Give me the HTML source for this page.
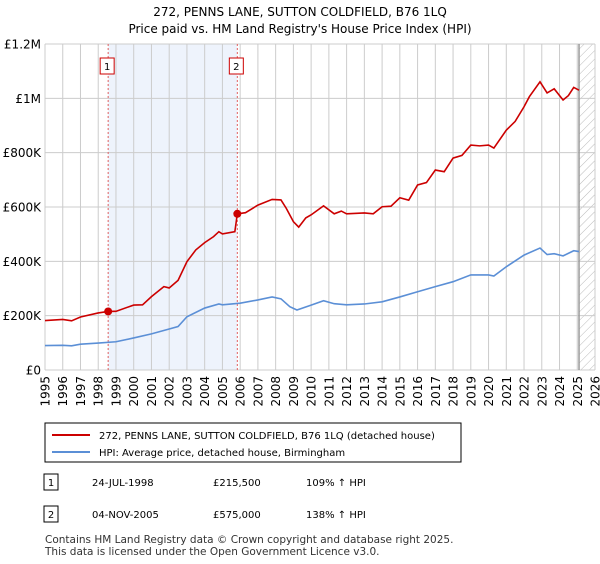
<!DOCTYPE html>
<html><head><meta charset="utf-8"><style>
body{margin:0;background:#fff;font-family:"DejaVu Sans","Liberation Sans",sans-serif;}
svg text{font-family:"DejaVu Sans","Liberation Sans",sans-serif;}
</style></head><body>
<svg id="c" width="600" height="560" viewBox="0 0 600 560" xmlns="http://www.w3.org/2000/svg">
<defs><pattern id="hatch" width="6" height="6" patternUnits="userSpaceOnUse" patternTransform="rotate(45)"><line x1="0" y1="0" x2="0" y2="6" stroke="#bbb" stroke-width="1"/></pattern></defs>
<text x="300" y="16" text-anchor="middle" font-size="12" fill="#000">272, PENNS LANE, SUTTON COLDFIELD, B76 1LQ</text>
<text x="300" y="33" text-anchor="middle" font-size="12" fill="#000">Price paid vs. HM Land Registry's House Price Index (HPI)</text>
<g id="plot"></g>
<g>
<rect x="45" y="423" width="416" height="39" fill="#fff" stroke="#000" stroke-width="1"/>
<line x1="52" y1="435" x2="90" y2="435" stroke="#cc0000" stroke-width="2"/>
<text x="99" y="439" font-size="10">272, PENNS LANE, SUTTON COLDFIELD, B76 1LQ (detached house)</text>
<line x1="52" y1="452" x2="90" y2="452" stroke="#5b8fd6" stroke-width="2"/>
<text x="99" y="456" font-size="10">HPI: Average price, detached house, Birmingham</text>
</g>
<g>
<rect x="44" y="474" width="14" height="16" fill="#fff" stroke="#000"/>
<text x="51" y="486" text-anchor="middle" font-size="10">1</text>
<text x="92" y="486" font-size="10">24-JUL-1998</text>
<text x="213" y="486" font-size="10">£215,500</text>
<text x="306" y="486" font-size="10">109% ↑ HPI</text>
<rect x="44" y="506" width="14" height="16" fill="#fff" stroke="#000"/>
<text x="51" y="518" text-anchor="middle" font-size="10">2</text>
<text x="92" y="518" font-size="10">04-NOV-2005</text>
<text x="213" y="518" font-size="10">£575,000</text>
<text x="306" y="518" font-size="10">138% ↑ HPI</text>
</g>
<text x="45" y="543" font-size="10.5" fill="#333">Contains HM Land Registry data © Crown copyright and database right 2025.</text>
<text x="45" y="555" font-size="10.5" fill="#333">This data is licensed under the Open Government Licence v3.0.</text>
</svg>
<script>
const yearTicks=[1995,1996,1997,1998,1999,2000,2001,2002,2003,2004,2005,2006,2007,2008,2009,2010,2011,2012,2013,2014,2015,2016,2017,2018,2019,2020,2021,2022,2023,2024,2025,2026];
const valueTicks=[0,200000,400000,600000,800000,1000000,1200000];
const valueTickLabels=["£0","£200K","£400K","£600K","£800K","£1M","£1.2M"];
const propYears=[1995,1996,1996.5,1997,1998,1998.56,1999,2000,2000.5,2001,2001.7,2002,2002.5,2003,2003.5,2004,2004.5,2004.8,2005,2005.7,2005.84,2006.3,2007,2007.8,2008.3,2008.6,2009,2009.3,2009.7,2010,2010.7,2011.3,2011.7,2012,2013,2013.5,2014,2014.5,2015,2015.5,2016,2016.5,2017,2017.5,2018,2018.5,2019,2019.5,2020,2020.3,2021,2021.5,2022,2022.3,2022.9,2023.3,2023.7,2024.2,2024.5,2024.8,2025.1];
const propValues=[182000,186000,181000,195000,210000,215500,216000,239000,240000,270000,307000,302000,330000,399000,442000,469000,491000,509000,501000,509000,575000,579000,607000,628000,626000,595000,546000,526000,560000,571000,604000,575000,585000,575000,578000,575000,601000,603000,634000,625000,681000,690000,736000,730000,780000,790000,828000,825000,828000,817000,883000,915000,969000,1006000,1061000,1020000,1035000,994000,1010000,1040000,1030000];
const hpiYears=[1995,1996,1996.5,1997,1998,1999,2000,2001,2002,2002.5,2003,2004,2004.8,2005,2006,2007,2007.8,2008.3,2008.8,2009.2,2010,2010.7,2011.3,2012,2013,2014,2015,2016,2017,2018,2019,2020,2020.3,2021,2022,2022.9,2023.3,2023.7,2024.2,2024.8,2025.1];
const hpiValues=[90000,91000,89000,95000,99000,104000,118000,133000,151000,160000,196000,228000,243000,240000,246000,258000,269000,262000,233000,221000,239000,255000,244000,240000,243000,251000,269000,288000,307000,325000,350000,350000,346000,380000,423000,449000,425000,428000,420000,439000,436000];
const saleYears=[1998.56,2005.84];
const saleValues=[215500,575000];
const saleLabels=["1","2"];

const NS="http://www.w3.org/2000/svg";
const L=45,R=595,T=44,B=370;
const xs=y=>L+(y-1995)/(2026-1995)*(R-L);
const ys=v=>B-v/1200000*(B-T);
const g=document.getElementById('plot');
function mk(tag,attrs){const e=document.createElementNS(NS,tag);for(const k in attrs)e.setAttribute(k,attrs[k]);g.appendChild(e);return e;}

let e=mk('rect',{x:xs(saleYears[0]),y:T,width:xs(saleYears[1])-xs(saleYears[0]),height:B-T,fill:'#eef3fc'});


e=mk('rect',{x:xs(2025.1),y:T,width:R-xs(2025.1),height:B-T,fill:'url(#hatch)'});



yearTicks.forEach(yr=>{
  const l=mk('line',{x1:xs(yr),x2:xs(yr),y1:T,y2:B,stroke:'#ccc','stroke-width':1});
  
  
  const t=mk('text',{x:0,y:0,'font-size':12,'text-anchor':'end',transform:`translate(${xs(yr)+4.5},${B+6}) rotate(-90)`});
  t.textContent=yr;
  
  
});
valueTicks.forEach((v,i)=>{
  const l=mk('line',{x1:L,x2:R,y1:ys(v),y2:ys(v),stroke:'#ccc','stroke-width':1});
  
  
  const t=mk('text',{x:L-4,y:ys(v)+4.5,'font-size':12,'text-anchor':'end'});
  t.textContent=valueTickLabels[i];
  
  
});
e=mk('line',{x1:xs(2025.1),x2:xs(2025.1),y1:T,y2:B,stroke:'#999','stroke-width':1.5});



saleYears.forEach((yr,i)=>{
  const l=mk('line',{x1:xs(yr),x2:xs(yr),y1:T,y2:B,stroke:'#e06060','stroke-width':1,'stroke-dasharray':'2,2'});
  
  
  const r=mk('rect',{x:xs(yr)-8,y:58,width:14,height:16,fill:'#fff',stroke:'#cc0000'});
  
  
  const t=mk('text',{x:xs(yr)-1,y:70,'font-size':10,'text-anchor':'middle'});
  t.textContent=saleLabels[i];
  
  
});

const hp=mk('polyline',{points:hpiYears.map((y,i)=>xs(y)+','+ys(hpiValues[i])).join(' '),fill:'none',stroke:'#5b8fd6','stroke-width':1.6});


const pp=mk('polyline',{points:propYears.map((y,i)=>xs(y)+','+ys(propValues[i])).join(' '),fill:'none',stroke:'#cc0000','stroke-width':1.6});


saleYears.forEach((yr,i)=>{
  const c=mk('circle',{cx:xs(yr),cy:ys(saleValues[i]),r:4,fill:'#cc0000'});
  
  
});
</script>
</body></html>
